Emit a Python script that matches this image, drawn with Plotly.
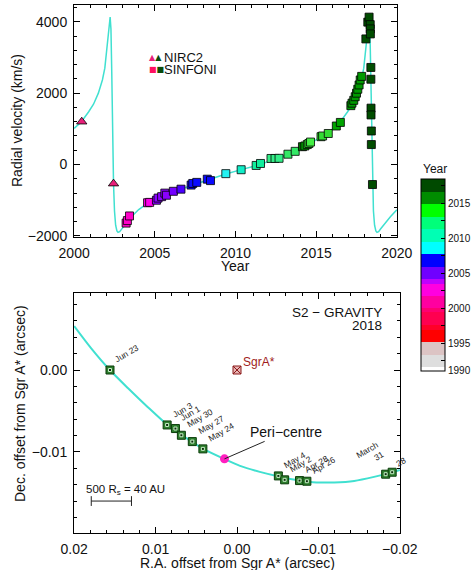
import plotly.graph_objects as go

W, H = 471, 570
FONT = "Liberation Sans, Arial, sans-serif"
TXT = "#111111"
CURVE = "#40e0d0"

# ---------------- top panel: radial velocity ----------------
model_year = [2000.00, 2000.45, 2000.90, 2001.20, 2001.50, 2001.75, 2001.90, 2002.02,
              2002.12, 2002.20, 2002.23, 2002.28, 2002.33, 2002.38, 2002.44, 2002.50,
              2002.57, 2002.65, 2002.72, 2002.82, 2002.95, 2003.20, 2003.55, 2004.00,
              2004.60, 2005.20, 2005.80, 2006.50, 2007.30, 2008.00, 2008.70, 2009.40,
              2010.30, 2011.20, 2012.00, 2012.70, 2013.40, 2014.00, 2014.60, 2015.20,
              2015.80, 2016.20, 2016.50, 2016.95, 2017.25, 2017.55, 2017.80, 2017.95,
              2018.07, 2018.17, 2018.25, 2018.28, 2018.33, 2018.38, 2018.43, 2018.49,
              2018.55, 2018.62, 2018.70, 2018.77, 2018.87, 2019.00, 2019.25, 2019.60,
              2020.00]
model_rv = [1010, 1200, 1480, 1690, 2000, 2370, 2700, 3150,
            3650, 4000, 4130, 3800, 2600, 1000, -535, -1300,
            -1700, -1860, -1900, -1880, -1800, -1650, -1460, -1260,
            -1070, -950, -830, -710, -580, -470, -370, -265,
            -150, -40, 80, 190, 310, 430, 590, 750,
            900, 1060, 1200, 1480, 1690, 2000, 2370, 2700,
            3150, 3650, 4000, 4130, 3800, 2600, 1000, -535,
            -1300, -1700, -1860, -1900, -1880, -1800, -1650, -1460,
            -1270]

nirc2_year = [2000.47, 2002.44]
nirc2_rv = [1200, -535]

sinfoni_year = [2003.22, 2003.30, 2003.43, 2004.55, 2004.68,
                2005.10, 2005.20, 2005.42, 2005.62, 2005.72, 2006.15, 2006.62,
                2007.25, 2007.35, 2007.60, 2008.25, 2008.45,
                2009.40, 2010.35, 2011.28, 2011.55,
                2012.20, 2012.45, 2012.70, 2013.25, 2013.70,
                2014.15, 2014.30, 2014.45, 2014.55, 2014.65,
                2015.30, 2015.40, 2015.75, 2016.25, 2016.50,
                2017.15, 2017.22, 2017.33, 2017.42, 2017.50, 2017.58, 2017.66, 2017.73, 2017.82,
                2018.08, 2018.20, 2018.28, 2018.35, 2018.35, 2018.36, 2018.39, 2018.39,
                2018.40, 2018.40, 2018.42, 2018.42, 2018.49]
sinfoni_rv = [-1640, -1570, -1440, -1070, -1060,
              -1000, -940, -900, -800, -860, -750, -690,
              -575, -530, -500, -410, -450,
              -255, -145, -25, 30,
              170, 170, 175, 290, 370,
              500, 520, 560, 590, 630,
              780, 800, 870, 1080, 1180,
              1650, 1720, 1800, 1900, 2000, 2110, 2230, 2370, 2470,
              3520, 3990, 4130, 3920, 3800, 3660, 2720, 2390,
              1580, 1390, 940, 560, -560]
sinfoni_color = (["#ff00c8"] * 3 + ["#ff00ee"] * 2 + ["#8a00ff"] * 5 + ["#7400ff", "#4a00ff"]
                 + ["#0a0aff"] * 5 + ["#22f2f2", "#10eec8"] + ["#10ee9c"] * 2
                 + ["#33ee88"] * 3 + ["#33e866"] * 2
                 + ["#006e00", "#00a000", "#22cc22", "#33dd33", "#44ee44"]
                 + ["#33dd33"] * 3 + ["#00a500"] * 2 + ["#009a00"] * 9 + ["#004d00"] * 13)

# colour bar (year bands, bottom to top)
cbar_edges = [1991.04, 1991.62, 1993.38, 1995.19, 1996.86, 1997.57, 1999.49, 1999.96,
              2001.76, 2003.51, 2004.14, 2005.90, 2007.66, 2009.47, 2011.29, 2013.04,
              2014.86, 2016.62, 2018.43]
cbar_colors = ["#ffffff", "#dedede", "#dcc4c4", "#ff0000", "#ff0028", "#ff0050", "#ff0070",
               "#ff00a0", "#ff00e0", "#c000ff", "#7000ff", "#0000ff", "#00ffff", "#00ffb4",
               "#00ff7a", "#00ff00", "#008c00", "#004a00"]
cbar_tickvals = [1991.1, 1992.5, 1995, 1997.5, 2000, 2002.5, 2005, 2007.5, 2010, 2012.5, 2015, 2017.5]
cbar_ticktext = ["1990", " ", "1995", " ", "2000", " ", "2005", " ", "2010", " ", "2015", " "]

# ---------------- bottom panel: sky orbit ----------------
orbit_ra = [0.0200, 0.01793, 0.01561, 0.01341, 0.01098, 0.00854, 0.00683, 0.00549, 0.00415,
            0.00159, -0.00037, -0.00280, -0.00512, -0.00768, -0.00976, -0.01195, -0.01439,
            -0.01683, -0.01902, -0.0200]
orbit_dec = [0.00537, 0.00268, 0.0, -0.00220, -0.00451, -0.00671, -0.00793, -0.00878, -0.00963,
             -0.01085, -0.01171, -0.01244, -0.01299, -0.01348, -0.01372, -0.01372, -0.01354,
             -0.01305, -0.01250, -0.01220]

gravity_ra = [0.0156, 0.00858, 0.00756, 0.00683, 0.00549, 0.00419, -0.00508, -0.00585,
              -0.00768, -0.00858, -0.01826, -0.01906]
gravity_dec = [0.0000, -0.00671, -0.00715, -0.00797, -0.00874, -0.00963, -0.01293, -0.01341,
               -0.01350, -0.01358, -0.01272, -0.01248]
gravity_label = ["Jun 23", "Jun 3", "Jun 1", "May 30", "May 27", "May 24", "May 4", "May 2",
                 "Apr 28", "Apr 26", "March<br>31", "28"]

peri_ra, peri_dec = 0.00154, -0.01085
sgra_ra, sgra_dec = 0.0, 0.0
scale_ra_start, scale_len, scale_dec = 0.0179, 0.00494, -0.0160


def px(x):
    return x / W


def py(y):
    return 1 - y / H


fig = go.Figure()

# top panel
fig.add_trace(go.Scatter(x=model_year, y=model_rv, mode="lines",
                         line=dict(color=CURVE, width=1.5), xaxis="x", yaxis="y",
                         showlegend=False, hoverinfo="skip"))
fig.add_trace(go.Scatter(x=nirc2_year, y=nirc2_rv, mode="markers", xaxis="x", yaxis="y",
                         marker=dict(symbol="triangle-up", size=9, color="#e8207a",
                                     line=dict(color="black", width=0.8)),
                         showlegend=False))
fig.add_trace(go.Scatter(x=sinfoni_year, y=sinfoni_rv, mode="markers", xaxis="x", yaxis="y",
                         marker=dict(symbol="square", size=8, color=sinfoni_color,
                                     line=dict(color="black", width=0.8)),
                         showlegend=False))

# colour bar
n = cbar_edges[-1] - cbar_edges[0]
cscale = []
for i, c in enumerate(cbar_colors):
    a = (cbar_edges[i] - cbar_edges[0]) / n
    b = (cbar_edges[i + 1] - cbar_edges[0]) / n
    cscale.append([a, c])
    cscale.append([b, c])
fig.add_trace(go.Scatter(x=[None], y=[None], mode="markers", xaxis="x", yaxis="y",
                         showlegend=False, hoverinfo="skip",
                         marker=dict(color=[2000], cmin=cbar_edges[0], cmax=cbar_edges[-1],
                                     colorscale=cscale, showscale=True,
                                     colorbar=dict(x=px(421), xanchor="left",
                                                   y=py((179.3 + 371) / 2), yanchor="middle",
                                                   len=191.7, lenmode="pixels",
                                                   thickness=24, thicknessmode="pixels",
                                                   outlinewidth=1, outlinecolor="black",
                                                   ticks="inside", ticklen=4, tickcolor="black",
                                                   tickmode="array", tickvals=cbar_tickvals,
                                                   ticktext=cbar_ticktext,
                                                   tickfont=dict(size=10, family=FONT, color=TXT),
                                                   xpad=0, ypad=0, borderwidth=0))))

# bottom panel
fig.add_trace(go.Scatter(x=orbit_ra, y=orbit_dec, mode="lines", xaxis="x2", yaxis="y2",
                         line=dict(color=CURVE, width=2, shape="spline", smoothing=0.8),
                         showlegend=False, hoverinfo="skip"))
fig.add_trace(go.Scatter(x=gravity_ra, y=gravity_dec, mode="markers", xaxis="x2", yaxis="y2",
                         marker=dict(symbol="square", size=8, color="#2d7d2d",
                                     line=dict(color="#0b3d0b", width=1)),
                         showlegend=False))
fig.add_trace(go.Scatter(x=gravity_ra, y=gravity_dec, mode="markers", xaxis="x2", yaxis="y2",
                         marker=dict(symbol="square", size=3, color="#0b2b0b",
                                     line=dict(color="#c8f0c8", width=1)),
                         showlegend=False))
fig.add_trace(go.Scatter(x=[peri_ra], y=[peri_dec], mode="markers", xaxis="x2", yaxis="y2",
                         marker=dict(symbol="circle", size=9, color="#ff1fc0"),
                         showlegend=False))
fig.add_trace(go.Scatter(x=[sgra_ra], y=[sgra_dec], mode="markers", xaxis="x2", yaxis="y2",
                         marker=dict(symbol="square-x", size=8, color="#e8b4b4",
                                     line=dict(color="#8b1a1a", width=1)),
                         showlegend=False))
fig.add_trace(go.Scatter(x=[scale_ra_start, scale_ra_start - scale_len], y=[scale_dec, scale_dec],
                         mode="lines+markers", xaxis="x2", yaxis="y2",
                         line=dict(color="#222222", width=1),
                         marker=dict(symbol="line-ns-open", size=7,
                                     line=dict(color="#222222", width=1)),
                         showlegend=False))

axis_common = dict(showline=True, linecolor="black", linewidth=1, mirror="ticks",
                   ticks="inside", ticklen=6, tickcolor="black", showgrid=False,
                   zeroline=False, tickfont=dict(size=14, family=FONT, color=TXT),
                   ticklabelstandoff=3, automargin=False)

fig.update_layout(
    width=W, height=H, margin=dict(l=0, r=0, t=0, b=0, autoexpand=False),
    paper_bgcolor="white", plot_bgcolor="white", showlegend=False,
    font=dict(family=FONT, color=TXT),
    xaxis=dict(domain=[px(74), px(397)], range=[1999.99, 2020.01], tick0=2000, dtick=5,
               anchor="y", minor=dict(dtick=1, ticks="inside", ticklen=3, tickcolor="black"),
               **axis_common),
    yaxis=dict(domain=[py(237), py(5)], range=[-2030, 4470], tick0=0, dtick=2000,
               anchor="x", minor=dict(dtick=400, ticks="inside", ticklen=3, tickcolor="black"),
               **axis_common),
    xaxis2=dict(domain=[px(74), px(400)], range=[0.02002, -0.02002], tick0=0, dtick=0.01,
                tickformat=".2f", anchor="y2",
                minor=dict(dtick=0.002, ticks="inside", ticklen=3, tickcolor="black"),
                **axis_common),
    yaxis2=dict(domain=[py(533), py(293)], range=[-0.0199, 0.0094], tick0=0, dtick=0.01,
                tickformat=".2f", anchor="x2",
                minor=dict(dtick=0.002, ticks="inside", ticklen=3, tickcolor="black"),
                **axis_common),
)

ann = []


def paper_text(text, x, y, size=14, xanchor="center", yanchor="middle", angle=0, color=TXT,
               family=FONT, align="center"):
    ann.append(dict(text=text, x=px(x), y=py(y), xref="paper", yref="paper", showarrow=False,
                    xanchor=xanchor, yanchor=yanchor, textangle=angle, align=align,
                    font=dict(size=size, family=family, color=color)))


# axis titles
paper_text("Year", 235, 266)
paper_text("Radial velocity (km/s)", 17, 121, angle=-90)
paper_text("R.A. offset from Sgr A* (arcsec)", 237, 562.5)
paper_text("Dec. offset from Sgr A* (arcsec)", 20, 404, angle=-90)
paper_text("Year", 435, 169, size=12)

# legend of the top panel
paper_text('<span style="color:#e8207a">▲</span><span style="color:#0a4a0a">▲</span>',
           147, 58, size=8, xanchor="left", family="DejaVu Sans")
paper_text('<span style="color:#ff1060">■</span><span style="color:#0a4a0a">■</span>',
           147, 69, size=8, xanchor="left", family="DejaVu Sans")
paper_text("NIRC2", 162, 58, size=13, xanchor="left")
paper_text("SINFONI", 162, 69, size=13, xanchor="left")

# bottom panel texts
paper_text("S2 − GRAVITY", 384, 312, size=13.5, xanchor="right")
paper_text("2018", 384, 325, size=13.5, xanchor="right")
paper_text("500 R<sub>s</sub> = 40 AU", 125, 490, size=11.5)

for ra, dec, lab in zip(gravity_ra, gravity_dec, gravity_label):
    if lab.startswith("March"):
        a = dict(xanchor="right", yanchor="bottom", xshift=3, yshift=2, align="right")
    elif lab == "28":
        a = dict(xanchor="left", yanchor="bottom", xshift=-1, yshift=1, align="left")
    else:
        a = dict(xanchor="left", yanchor="bottom", xshift=1, yshift=3, align="left")
    ann.append(dict(text=lab, x=ra, y=dec, xref="x2", yref="y2", showarrow=False,
                    textangle=-30, font=dict(size=8.5, family=FONT, color="#222222"), **a))

ann.append(dict(text="SgrA*", x=sgra_ra, y=sgra_dec, xref="x2", yref="y2", showarrow=False,
                xanchor="left", yanchor="middle", xshift=4, yshift=8,
                font=dict(size=12, family=FONT, color="#a01c1c")))
ann.append(dict(text="Peri−centre", x=peri_ra, y=peri_dec, xref="x2", yref="y2",
                showarrow=True, arrowhead=0, arrowwidth=1, arrowcolor="#222222",
                ax=62, ay=-27, font=dict(size=14, family=FONT, color=TXT)))

fig.update_layout(annotations=ann)
fig.write_html("out.html", config={"displayModeBar": False},
               post_script="document.body.style.margin='0';document.body.style.padding='0';")
